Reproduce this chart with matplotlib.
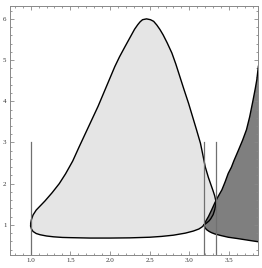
import matplotlib
matplotlib.use("Agg")
import matplotlib.pyplot as plt
from matplotlib.ticker import MultipleLocator, FormatStrFormatter

# light region, traced clockwise from the left tip along the bottom
light_pts = [
    (1.00, 0.97), (1.01, 0.90), (1.03, 0.84), (1.07, 0.79), (1.12, 0.76), (1.20, 0.73),
    (1.29, 0.71), (1.40, 0.695), (1.50, 0.69), (1.75, 0.68), (2.00, 0.68), (2.25, 0.685),
    (2.50, 0.70), (2.65, 0.72), (2.80, 0.75), (2.95, 0.80), (3.05, 0.85), (3.12, 0.90),
    (3.16, 0.95), (3.185, 1.00), (3.22, 1.05), (3.25, 1.10), (3.27, 1.15), (3.30, 1.25),
    (3.32, 1.37), (3.33, 1.47), (3.335, 1.57), (3.32, 1.70), (3.30, 1.82), (3.28, 1.93),
    (3.24, 2.15), (3.20, 2.41), (3.17, 2.70), (3.14, 2.98), (3.09, 3.31), (3.04, 3.63),
    (2.99, 3.95), (2.93, 4.30), (2.88, 4.60), (2.83, 4.90), (2.78, 5.17), (2.72, 5.42),
    (2.67, 5.61), (2.63, 5.74), (2.59, 5.85), (2.55, 5.94), (2.51, 5.98), (2.46, 6.00),
    (2.41, 5.98), (2.38, 5.93), (2.35, 5.86), (2.31, 5.75), (2.27, 5.61), (2.19, 5.33),
    (2.12, 5.08), (2.06, 4.84), (1.99, 4.52), (1.92, 4.20), (1.85, 3.88), (1.77, 3.55),
    (1.69, 3.22), (1.61, 2.89), (1.53, 2.55), (1.44, 2.24), (1.36, 2.00), (1.27, 1.78),
    (1.18, 1.58), (1.12, 1.46), (1.07, 1.36), (1.03, 1.24), (1.01, 1.13), (1.00, 1.04),
    (1.00, 0.97),
]
light_x = [p[0] for p in light_pts]
light_y = [p[1] for p in light_pts]

# dark region: upper-left boundary and lower boundary, both from the shared point
dark_top_x = [3.185, 3.21, 3.24, 3.28, 3.32, 3.36, 3.41, 3.45, 3.49, 3.53, 3.56, 3.62,
              3.67, 3.72, 3.76, 3.80, 3.83, 3.85, 3.87]
dark_top_y = [1.00, 1.10, 1.20, 1.36, 1.53, 1.68, 1.85, 2.04, 2.25, 2.40, 2.55, 2.82,
              3.05, 3.31, 3.62, 4.00, 4.30, 4.52, 4.85]
dark_bot_x = [3.185, 3.19, 3.20, 3.22, 3.25, 3.28, 3.32, 3.40, 3.49, 3.60, 3.70, 3.80, 3.87]
dark_bot_y = [1.00, 0.96, 0.92, 0.88, 0.84, 0.81, 0.78, 0.74, 0.70, 0.67, 0.64, 0.61, 0.59]

# vertical marker lines
vlines_x = [1.0, 3.185, 3.337]
vlines_top = 3.0

fig = plt.figure(figsize=(2.62, 2.68), dpi=100)
ax = fig.add_axes([0.038, 0.049, 0.947, 0.929])

ax.fill(light_x, light_y, color="black", alpha=0.1, lw=0)
ax.plot(light_x, light_y, color="black", lw=1.0, solid_joinstyle="round")

dark_x = dark_top_x + dark_bot_x[::-1]
dark_y = dark_top_y + dark_bot_y[::-1]
ax.fill(dark_x, dark_y, color="black", alpha=0.5, lw=0)
ax.plot(dark_top_x, dark_top_y, color="black", lw=1.0, solid_joinstyle="round")
ax.plot(dark_bot_x, dark_bot_y, color="black", lw=1.0, solid_joinstyle="round")

for xv in vlines_x:
    ax.plot([xv, xv], [0.0, vlines_top], color="#707070", lw=0.9)

ax.set_xlim(0.739, 3.866)
ax.set_ylim(0.272, 6.315)

ax.xaxis.set_major_locator(MultipleLocator(0.5))
ax.xaxis.set_minor_locator(MultipleLocator(0.1))
ax.yaxis.set_major_locator(MultipleLocator(1))
ax.yaxis.set_minor_locator(MultipleLocator(0.2))
ax.xaxis.set_major_formatter(FormatStrFormatter("%.1f"))
ax.yaxis.set_major_formatter(FormatStrFormatter("%d"))

ax.tick_params(which="both", direction="in", top=True, right=True, color="#888888",
               width=0.6, labelsize=5, labelcolor="#333333", pad=2.5)
ax.tick_params(which="major", length=3)
ax.tick_params(which="minor", length=1.6)
for lab in ax.get_xticklabels() + ax.get_yticklabels():
    lab.set_family("Liberation Serif")
for sp in ax.spines.values():
    sp.set_color("#888888")
    sp.set_linewidth(0.7)

fig.savefig("out.png", dpi=100)
